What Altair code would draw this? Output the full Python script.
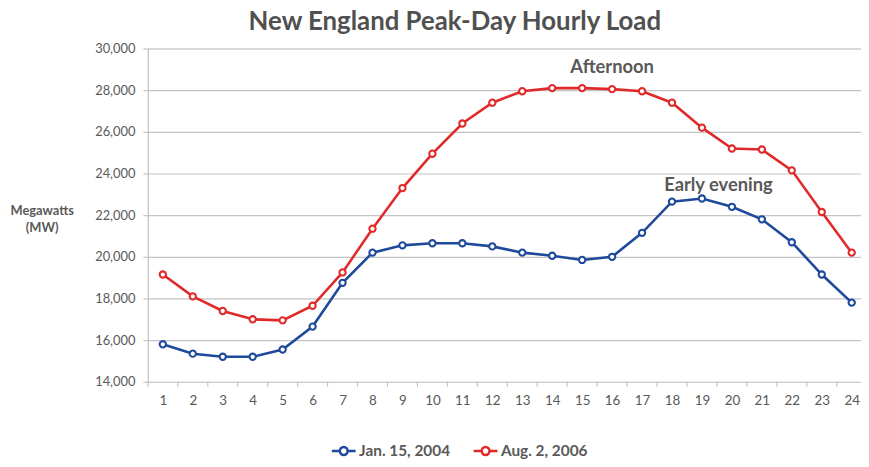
import altair as alt
import pandas as pd

hours = list(range(1, 25))
series_names = ["Jan. 15, 2004", "Aug. 2, 2006"]
jan_2004 = [15800, 15350, 15200, 15200, 15550, 16650, 18750, 20200, 20550, 20650, 20650, 20500,
            20200, 20050, 19850, 20000, 21150, 22650, 22800, 22400, 21800, 20700, 19150, 17800]
aug_2006 = [19150, 18100, 17400, 17000, 16950, 17650, 19250, 21350, 23300, 24950, 26400, 27400,
            27950, 28100, 28100, 28050, 27950, 27400, 26200, 25200, 25150, 24150, 22150, 20200]
y_ticks = list(range(14000, 30001, 2000))
tick_bounds = [h - 0.5 for h in hours]
ann_labels = ["Afternoon", "Early evening"]
ann_hour = [16.0, 19.55]
ann_load = [29100, 23450]

FONT = "Lato"
GRAY = "#595959"
GRID = "#C4C4C4"
BLUE = "#1F4A9C"
RED = "#E02A2A"

df = pd.DataFrame({
    "hour": hours * 2,
    "load": jan_2004 + aug_2006,
    "series": [series_names[0]] * 24 + [series_names[1]] * 24,
})
ticks_df = pd.DataFrame({"hour": tick_bounds})
ann_df = pd.DataFrame({"hour": ann_hour, "load": ann_load, "label": ann_labels})

W, H = 719, 336

x_scale = alt.Scale(domain=[0.5, 24.31], nice=False, zero=False)
y_scale = alt.Scale(domain=[14000, 30000], nice=False, zero=False)

x_axis = alt.Axis(values=hours, ticks=False, grid=False, domain=False, labelOverlap=False,
                  labelPadding=12, title=None, labelFontSize=13.5, labelBound=False,
                  labelColor=GRAY, labelFont=FONT, labelFlush=False)
y_axis = alt.Axis(values=y_ticks, format=",.0f", tickSize=5, tickColor=GRID,
                  tickWidth=1.2, domainColor=GRID, domainWidth=1.2,
                  gridColor=GRID, gridWidth=1.2, labelPadding=8, labelOverlap=False,
                  labelFontSize=13, labelColor=GRAY, labelFont=FONT,
                  title=["Megawatts", "(MW)"], titleAngle=0, titleX=-107,
                  titleY=163, titleAlign="center", titleBaseline="middle",
                  titleFontWeight="bold", titleFontSize=13, titleColor=GRAY,
                  titleFont=FONT, titleLineHeight=18)

x_enc = alt.X("hour:Q", scale=x_scale, axis=x_axis)
y_enc = alt.Y("load:Q", scale=y_scale, axis=y_axis)

color_scale = alt.Scale(domain=series_names, range=[BLUE, RED])
color = alt.Color("series:N", scale=color_scale,
                  legend=alt.Legend(title=None, orient="none", direction="horizontal",
                                    legendX=184, legendY=392,
                                    symbolType="M-1,0L-0.33,0M0.33,0L1,0M-0.33,0A0.33,0.33,0,1,0,0.33,0A0.33,0.33,0,1,0,-0.33,0",
                                    symbolSize=576, symbolStrokeWidth=2.5,
                                    symbolFillColor="white", labelFontSize=15.5,
                                    labelFont=FONT, labelColor=GRAY, labelFontWeight="bold",
                                    labelOffset=2, columnPadding=18))

base = alt.Chart(df)
lines = base.mark_line(strokeWidth=2.6).encode(x=x_enc, y=y_enc, color=color)
points = base.mark_point(filled=True, fill="white", size=40, strokeWidth=2.1, opacity=1).encode(
    x=x_enc, y=y_enc, stroke=alt.Stroke("series:N", scale=color_scale, legend=None))

tick_marks = alt.Chart(ticks_df).mark_rule(color=GRID, strokeWidth=1.2).encode(
    x=x_enc, y=alt.value(H), y2=alt.value(H + 5))

ann = alt.Chart(ann_df).mark_text(fontSize=18.5, fontWeight="bold", color=GRAY, font=FONT).encode(
    x=x_enc, y=y_enc, text="label:N")

chart = alt.layer(tick_marks, lines, points, ann).properties(
    width=W, height=H,
    title=alt.TitleParams("New England Peak-Day Hourly Load", anchor="middle", frame="group",
                          dx=-50, offset=8, fontSize=26, fontWeight="bold", color="#505050",
                          font=FONT),
    autosize=alt.AutoSizeParams(type="none"),
    padding={"left": 141, "top": 39, "right": 0, "bottom": 76},
).configure_view(stroke=None).configure(background="white")

chart.save("out.html", embed_options={"renderer": "svg", "actions": False})
